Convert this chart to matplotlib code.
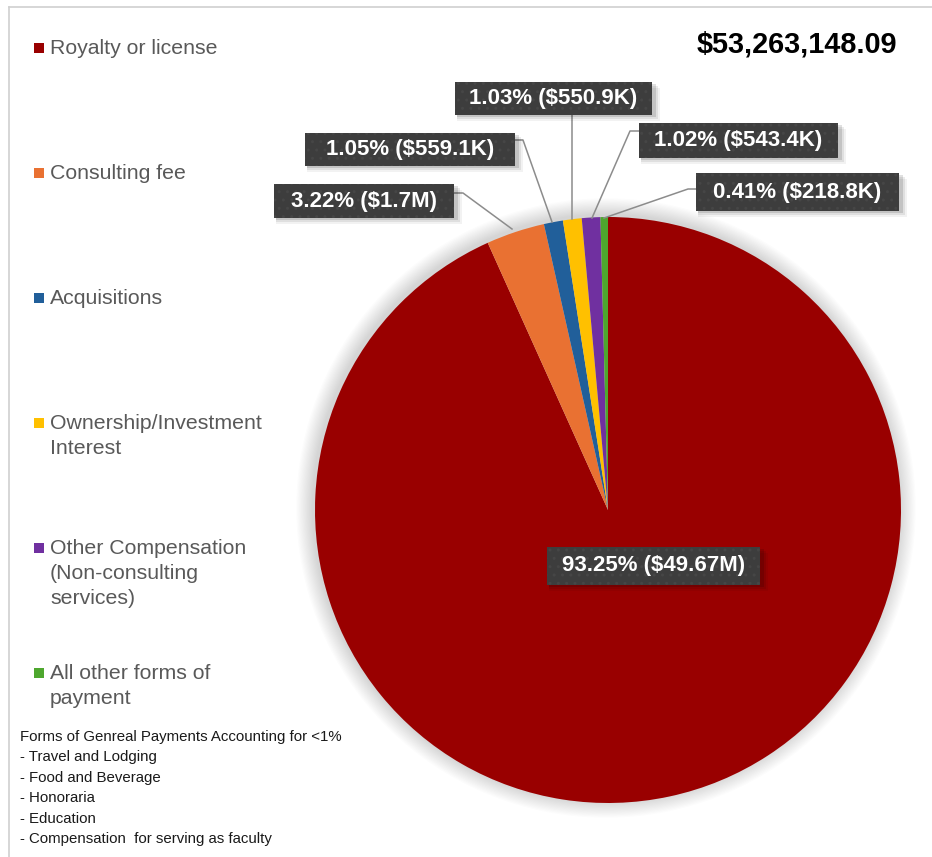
import numpy as np
import matplotlib.pyplot as plt
from matplotlib import font_manager
from matplotlib.patches import Rectangle, Circle

plt.rcParams['font.family'] = ['Liberation Sans', 'DejaVu Sans']

# --------------------
# data
# --------------------

categories = [
    "Royalty or license",
    "Consulting fee",
    "Acquisitions",
    "Ownership/Investment\nInterest",
    "Other Compensation\n(Non-consulting\nservices)",
    "All other forms of\npayment",
]
pcts = [93.25, 3.22, 1.05, 1.03, 1.02, 0.41]
amounts = ["$49.67M", "$1.7M", "$559.1K", "$550.9K", "$543.4K", "$218.8K"]
total_text = "$53,263,148.09"
colors = ["#990000", "#E97132", "#215F9A", "#FFC000", "#7030A0", "#4EA72E"]

footnote = [
    "Forms of Genreal Payments Accounting for <1%",
    "- Travel and Lodging",
    "- Food and Beverage",
    "- Honoraria",
    "- Education",
    "- Compensation  for serving as faculty",
]

W, H = 932, 857


def py(y):
    # pixel row (from top) -> axes y
    return H - y


# narrow face for the footnote if there is one
narrow = None
for f in font_manager.fontManager.ttflist:
    if f.name == "Liberation Sans Narrow":
        narrow = f.name
        break

fig = plt.figure(figsize=(W / 100, H / 100), dpi=100)
ax = fig.add_axes([0, 0, 1, 1])

cx, cy, r = 608, 510, 293

# soft shadow behind the pie
for k in range(14, 0, -1):
    ax.add_patch(Circle((cx - 2, py(cy - 2)), r + k * 1.2,
                        color="black", alpha=0.012, lw=0, zorder=1))

wedges, _ = ax.pie(
    pcts,
    colors=colors,
    startangle=90,
    counterclock=False,
    center=(cx, py(cy)),
    radius=r,
    wedgeprops=dict(linewidth=0, zorder=2),
)

# --------------------
# data labels (box left, top, right, bottom) + leader line
# --------------------

boxes = [
    (547, 547, 760, 585),
    (274, 184, 454, 218),
    (305, 133, 515, 166),
    (455, 82, 652, 115),
    (639, 123, 838, 158),
    (696, 173, 899, 211),
]
leaders = [
    None,
    [(454, 193), (463, 193), (512, 229)],
    [(515, 140), (523, 140), (552, 222)],
    [(572, 115), (572, 219)],
    [(639, 131), (630, 131), (592, 218)],
    [(696, 189), (688, 189), (604, 218)],
]

for p, amt, (x0, y0, x1, y1), ld in zip(pcts, amounts, boxes, leaders):
    if ld is not None:
        xs = [pt[0] for pt in ld]
        ys = [py(pt[1]) for pt in ld]
        ax.plot(xs, ys, color="#8c8c8c", lw=1.1, zorder=3)
    # drop shadow
    for k, a in [(6, 0.05), (4, 0.08), (2, 0.12)]:
        ax.add_patch(Rectangle((x0 + 2, py(y1) - k), x1 - x0 + k, y1 - y0,
                               color="black", alpha=a, lw=0, zorder=4))
    ax.add_patch(Rectangle((x0, py(y1)), x1 - x0, y1 - y0,
                           facecolor="#3d3d3d", edgecolor="none", zorder=5))
    ax.add_patch(Rectangle((x0, py(y1)), x1 - x0, y1 - y0, fill=False,
                           hatch="..", edgecolor="#464646", lw=0, zorder=5))
    ax.text((x0 + x1) / 2, py((y0 + y1) / 2), f"{p:.2f}% ({amt})",
            ha="center", va="center", color="white", fontsize=16,
            fontweight="bold", zorder=6)

# total in the top corner
ax.text(797, py(44), total_text, ha="center", va="center",
        fontsize=20.8, fontweight="bold", color="black")

# --------------------
# legend on the left
# --------------------

for i, (lab, c) in enumerate(zip(categories, colors)):
    yy = 48 + i * 125
    ax.add_patch(Rectangle((34, py(yy) - 5), 10, 10, color=c, lw=0))
    ax.text(50, py(yy) + 9, lab, ha="left", va="top", fontsize=15.3,
            color="#595959", linespacing=1.4)

# footnote
if narrow:
    foot_kw = dict(family=narrow, fontsize=12.5)
else:
    foot_kw = dict(fontsize=10.8)
for j, line in enumerate(footnote):
    ax.text(20, py(737 + j * 20.4), line, ha="left", va="center",
            color="#1a1a1a", **foot_kw)

# frame
ax.plot([9, W], [py(7), py(7)], color="#d0d0d0", lw=1.2)
ax.plot([9, 9], [py(7), 0], color="#d0d0d0", lw=1.2)

ax.set_aspect("auto")
ax.set_xlim(0, W)
ax.set_ylim(0, H)
ax.axis("off")

fig.savefig("out.png", dpi=100)
